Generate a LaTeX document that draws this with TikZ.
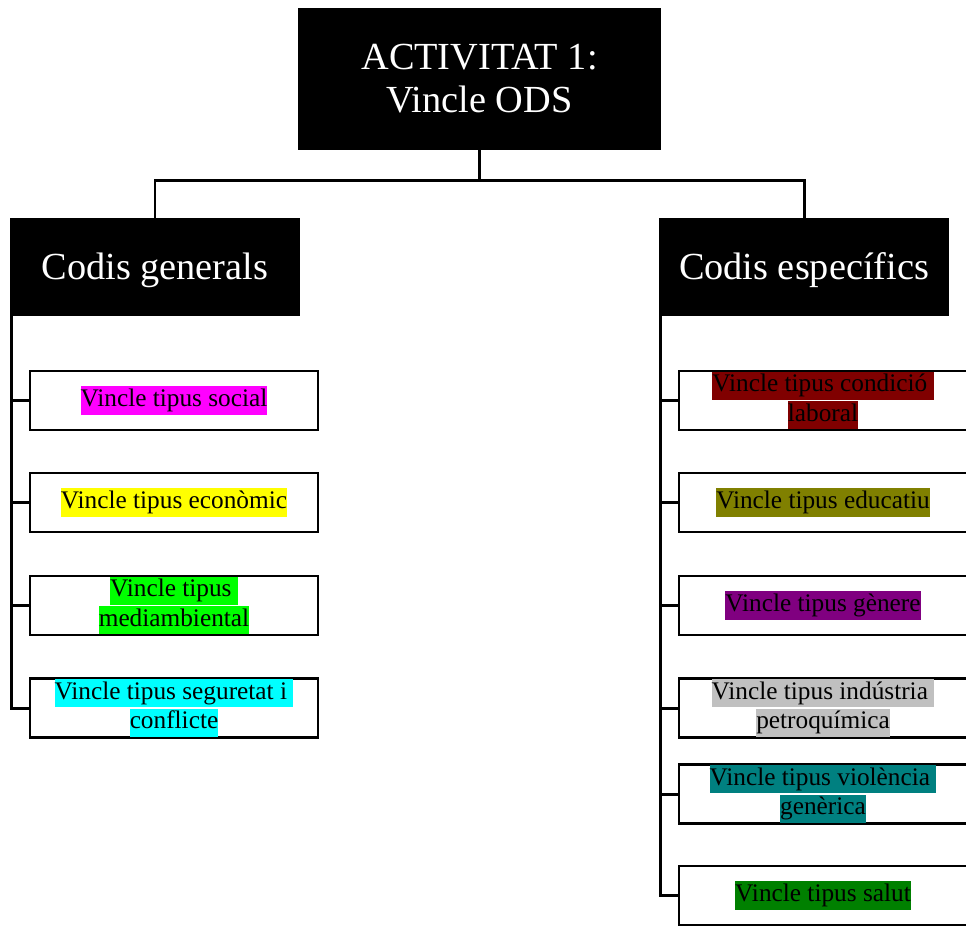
\documentclass[tikz,border=0pt]{standalone}
\usepackage{fontspec}
\setmainfont{Liberation Serif}
\usetikzlibrary{positioning}

\definecolor{hlmagenta}{HTML}{FF00FF}
\definecolor{hlyellow}{HTML}{FFFF00}
\definecolor{hlgreen}{HTML}{00FF00}
\definecolor{hlcyan}{HTML}{00FFFF}
\definecolor{hldarkred}{HTML}{800000}
\definecolor{hlolive}{HTML}{808000}
\definecolor{hlpurple}{HTML}{800080}
\definecolor{hlsilver}{HTML}{C0C0C0}
\definecolor{hlteal}{HTML}{008080}
\definecolor{hldarkgreen}{HTML}{008000}

% highlighted line of text
\newcommand{\hl}[2]{{\setlength{\fboxsep}{0pt}\colorbox{#1}{\rule[-4.6pt]{0pt}{16pt}#2}}}

\begin{document}
\begin{tikzpicture}[x=0.02cm, y=-0.02cm,
    headbox/.style={fill=black, text=white, inner sep=0pt, align=center,
        font=\fontsize{21.8}{24.5}\selectfont},
    codebox/.style={headbox, minimum width=5.8cm, minimum height=1.96cm,
        text height=14.4pt, text depth=0pt},
    leaf/.style={draw, line width=1.6pt, fill=white, inner sep=0pt, align=center,
        minimum width=5.76cm, minimum height=1.18cm,
        font=\fontsize{14.4}{17}\selectfont},
    link/.style={line width=1.7pt}]
    \useasboundingbox (0,0) rectangle (966,926);

    \node[headbox, minimum width=7.26cm, minimum height=2.84cm] (act) at (479.5,79) {ACTIVITAT 1:\\Vincle ODS};
    \node[codebox] (gen) at (155,267) {Codis generals};
    \node[codebox] (spe) at (804,267) {Codis específics};

    % general codes
    \node[leaf] (g1) at (174,400.5) {\hl{hlmagenta}{Vincle tipus social}};
    \node[leaf] (g2) at (174,502.5) {\hl{hlyellow}{Vincle tipus econòmic}};
    \node[leaf] (g3) at (174,605.5) {\hl{hlgreen}{Vincle tipus\ }\\\hl{hlgreen}{mediambiental}};
    \node[leaf] (g4) at (174,708) {\hl{hlcyan}{Vincle tipus seguretat i\ }\\\hl{hlcyan}{conflicte}};

    % specific codes
    \node[leaf] (e1) at (823,400.5) {\hl{hldarkred}{Vincle tipus condició\ }\\\hl{hldarkred}{laboral}};
    \node[leaf] (e2) at (823,502.5) {\hl{hlolive}{Vincle tipus educatiu}};
    \node[leaf] (e3) at (823,605.5) {\hl{hlpurple}{Vincle tipus gènere}};
    \node[leaf] (e4) at (823,708) {\hl{hlsilver}{Vincle tipus indústria\ }\\\hl{hlsilver}{petroquímica}};
    \node[leaf] (e5) at (823,794) {\hl{hlteal}{Vincle tipus violència\ }\\\hl{hlteal}{genèrica}};
    \node[leaf] (e6) at (823,895.5) {\hl{hldarkgreen}{Vincle tipus salut}};

    \draw[link] (act.south) -- ++(0,30) -| (gen.north);
    \draw[link] (act.south) -- ++(0,30) -| (spe.north);
    \foreach \c in {g1,g2,g3,g4}
        \draw[link] ([xshift=1.2pt]gen.south west) |- (\c.west);
    \foreach \c in {e1,e2,e3,e4,e5,e6}
        \draw[link] ([xshift=1.2pt]spe.south west) |- (\c.west);
\end{tikzpicture}
\end{document}
